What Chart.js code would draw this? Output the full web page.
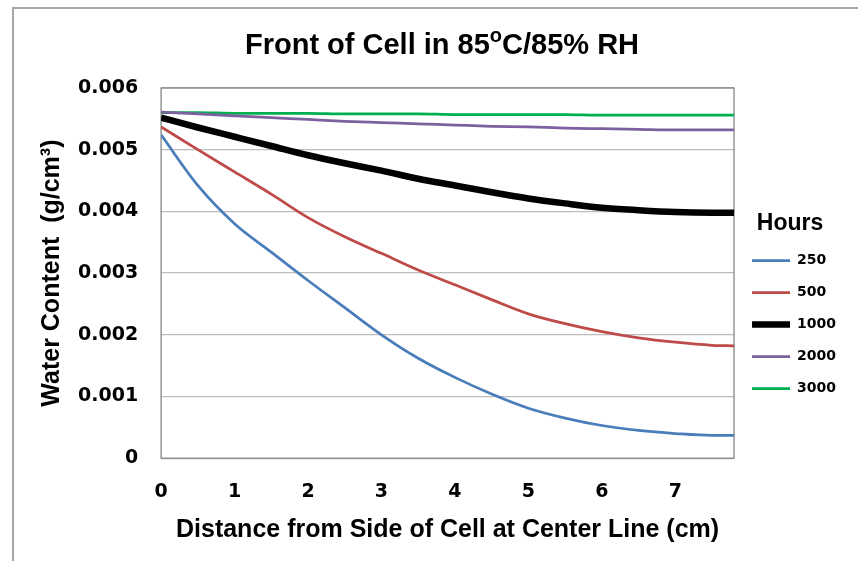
<!DOCTYPE html>
<html>
<head>
<meta charset="utf-8">
<script src="https://cdn.jsdelivr.net/npm/chart.js@4.4.0/dist/chart.umd.min.js"></script>
<style>
  html, body { margin: 0; padding: 0; background: #fff; }
  #wrap { position: relative; width: 858px; height: 561px; }
</style>
</head>
<body>
<div id="wrap"><canvas id="waterChart"></canvas></div>
<script>
// distance from side of cell (cm)
const distance = [0, 0.5, 1, 1.5, 2, 2.5, 3, 3.5, 4, 4.5, 5, 5.5, 6, 6.5, 7, 7.5, 7.8];

// water content (g/cm3) per exposure time
const hours = ['250', '500', '1000', '2000', '3000'];
const water250 = [0.00524, 0.00442, 0.00380, 0.00334, 0.00288, 0.00244, 0.00200, 0.00162, 0.00131, 0.00104, 0.00081, 0.00065, 0.00053, 0.00045, 0.00040, 0.00037, 0.00037];
const water500 = [0.00537, 0.00500, 0.00464, 0.00428, 0.00390, 0.00359, 0.00332, 0.00305, 0.00281, 0.00257, 0.00234, 0.00218, 0.00205, 0.00195, 0.00188, 0.00183, 0.00182];
const water1000 = [0.00552, 0.00536, 0.00521, 0.00506, 0.00491, 0.00478, 0.00466, 0.00453, 0.00442, 0.00431, 0.00421, 0.00413, 0.00406, 0.00402, 0.00399, 0.00398, 0.00398];
const water2000 = [0.00561, 0.00558, 0.00555, 0.00552, 0.00549, 0.00546, 0.00544, 0.00542, 0.00540, 0.00538, 0.00537, 0.00535, 0.00534, 0.00533, 0.00532, 0.00532, 0.00532];
const water3000 = [0.00560, 0.00560, 0.00559, 0.00559, 0.00559, 0.00558, 0.00558, 0.00558, 0.00557, 0.00557, 0.00557, 0.00557, 0.00556, 0.00556, 0.00556, 0.00556, 0.00556];

const xTicks = [0, 1, 2, 3, 4, 5, 6, 7];
const yTicks = [0, 0.001, 0.002, 0.003, 0.004, 0.005, 0.006];

const titleParts = ['Front of Cell in 85', 'o', 'C/85% RH'];

const series = [water250, water500, water1000, water2000, water3000];
const colors = ['#4a7ebb', '#be4b48', '#000000', '#7d60a0', '#00b050'];
const widths = [2.75, 2.75, 6.5, 2.75, 2.75];

const numFont = { family: 'DejaVu Sans', weight: 'bold', size: 19 };
const textFont = { family: 'Liberation Sans', weight: 'bold', size: 25 };

// outer frame, plot border and the title with a raised "o"
const framePlugin = {
  id: 'frame',
  beforeDraw(chart) {
    const ctx = chart.ctx;
    ctx.save();
    ctx.strokeStyle = '#a6a6a6';
    ctx.lineWidth = 2;
    ctx.beginPath();
    ctx.moveTo(13, 600);
    ctx.lineTo(13, 8);
    ctx.lineTo(900, 8);
    ctx.stroke();
    ctx.restore();
  },
  beforeDatasetsDraw(chart) {
    const a = chart.chartArea;
    const ctx = chart.ctx;
    ctx.save();
    ctx.strokeStyle = '#868686';
    ctx.lineWidth = 1.3;
    ctx.strokeRect(a.left, a.top, a.right - a.left, a.bottom - a.top);
    ctx.restore();
  },
  afterDraw(chart) {
    const ctx = chart.ctx;
    ctx.save();
    ctx.fillStyle = '#000';
    ctx.textBaseline = 'alphabetic';
    const fonts = ['bold 29px "Liberation Sans"', 'bold 20px "Liberation Sans"', 'bold 29px "Liberation Sans"'];
    const lifts = [0, 12, 0];
    let total = 0;
    const w = titleParts.map((t, i) => { ctx.font = fonts[i]; const m = ctx.measureText(t).width; total += m; return m; });
    let x = 442 - total / 2;
    titleParts.forEach((t, i) => {
      ctx.font = fonts[i];
      ctx.fillText(t, x, 54 - lifts[i]);
      x += w[i];
    });
    ctx.restore();
  }
};

new Chart(document.getElementById('waterChart'), {
  type: 'line',
  data: {
    datasets: hours.map((h, i) => ({
      label: h,
      data: distance.map((d, j) => ({ x: d, y: series[i][j] })),
      borderColor: colors[i],
      backgroundColor: colors[i],
      borderWidth: widths[i],
      pointRadius: 0,
      fill: false,
      cubicInterpolationMode: 'monotone'
    }))
  },
  options: {
    responsive: true,
    maintainAspectRatio: false,
    animation: false,
    layout: { padding: { top: 88, right: 12, bottom: 13, left: 20 } },
    plugins: {
      title: { display: false },
      tooltip: { enabled: false },
      legend: {
        position: 'right',
        fullSize: false,
        labels: {
          usePointStyle: true,
          pointStyleWidth: 38,
          boxHeight: 14,
          padding: 18,
          color: '#000',
          font: { family: 'DejaVu Sans', weight: 'bold', size: 14 },
          generateLabels: chart => chart.data.datasets.map((ds, i) => ({
            text: ds.label,
            strokeStyle: ds.borderColor,
            fillStyle: ds.borderColor,
            lineWidth: ds.borderWidth,
            pointStyle: 'line',
            hidden: false,
            datasetIndex: i,
            fontColor: '#000'
          }))
        },
        title: {
          display: true,
          text: 'Hours',
          color: '#000',
          font: { family: 'Liberation Sans', weight: 'bold', size: 23, lineHeight: 1 },
          padding: { top: 80, bottom: 0 }
        }
      }
    },
    scales: {
      x: {
        type: 'linear',
        min: 0,
        max: 7.8,
        afterBuildTicks: scale => { scale.ticks = xTicks.map(v => ({ value: v })); },
        grid: { display: false, drawTicks: false },
        border: { display: false },
        ticks: { color: '#000', font: numFont, padding: 22, maxRotation: 0 },
        title: {
          display: true,
          text: 'Distance from Side of Cell at Center Line (cm)',
          color: '#000',
          font: textFont,
          padding: { top: -10, bottom: 3 }
        }
      },
      y: {
        min: 0,
        max: 0.006,
        afterBuildTicks: scale => { scale.ticks = yTicks.map(v => ({ value: v })); },
        grid: { color: '#bdbdbd', lineWidth: 1.3, drawTicks: false },
        border: { display: false },
        ticks: {
          color: '#000',
          font: numFont,
          padding: 23,
          callback: v => v === 0 ? '0' : v.toFixed(3)
        },
        title: {
          display: true,
          text: 'Water Content  (g/cm³)',
          color: '#000',
          font: textFont,
          padding: { top: 17, bottom: -12 }
        }
      }
    }
  },
  plugins: [framePlugin]
});
</script>
</body>
</html>
